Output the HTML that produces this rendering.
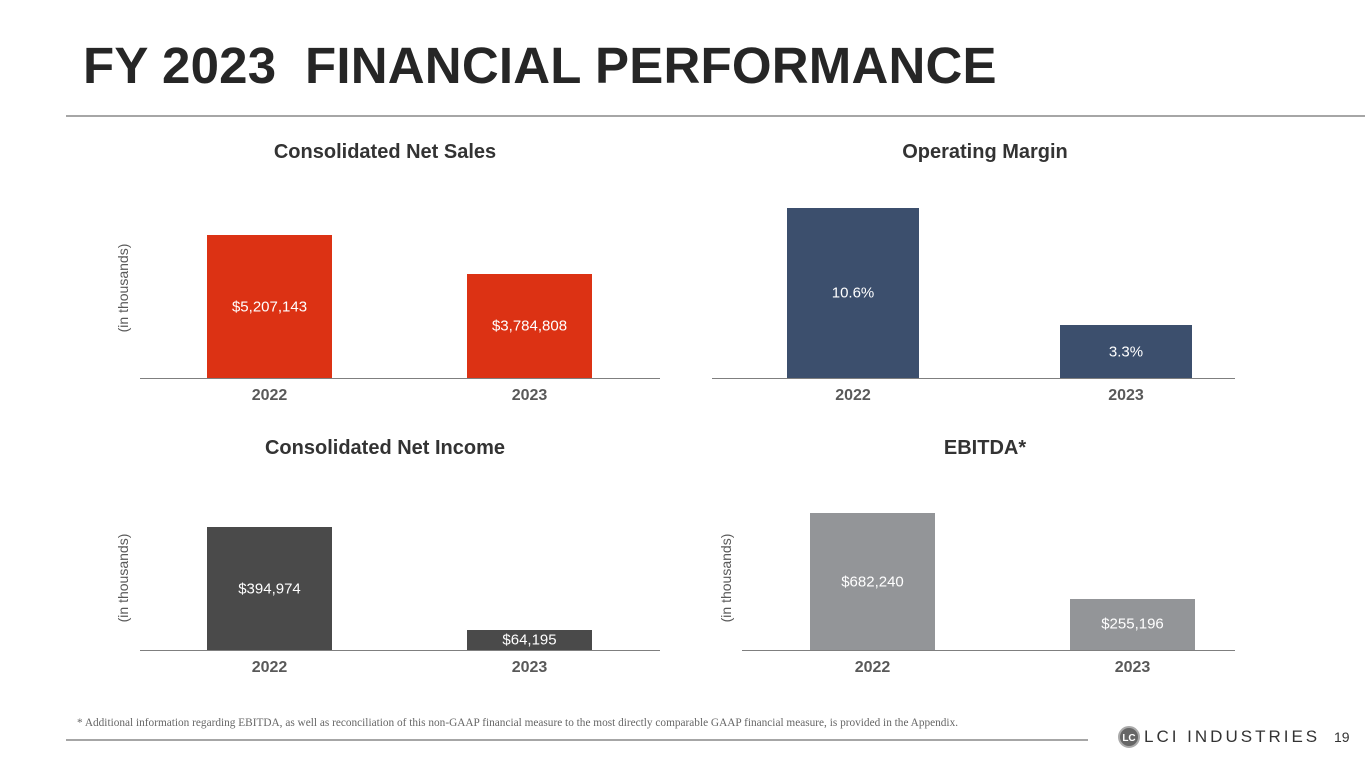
<!DOCTYPE html>
<html><head><meta charset="utf-8"><style>
body{margin:0;width:1365px;height:768px;background:#fff;position:relative;overflow:hidden;font-family:"Liberation Sans",sans-serif}
.abs{position:absolute}
#title{left:83px;top:36px;font-size:51px;font-weight:bold;color:#262626;white-space:pre;letter-spacing:0.2px}
.ct{font-size:20px;font-weight:bold;color:#333;transform:translateX(-50%);white-space:nowrap}
.yl{font-size:14px;color:#595959;transform:translate(-50%,-50%) rotate(-90deg);white-space:nowrap}
.yr{font-size:16px;font-weight:bold;color:#595959;transform:translateX(-50%)}
.vl{font-size:15px;color:#fff;transform:translate(-50%,-50%);white-space:nowrap}
</style></head><body>
<div id="title" class="abs">FY 2023  FINANCIAL PERFORMANCE</div>
<div class="abs" style="left:66px;top:115px;width:1299px;height:2px;background:#a6a6a6"></div>
<div class="abs" style="left:77px;top:717px;font-family:'Liberation Serif',serif;font-size:11.3px;color:#666;white-space:nowrap">* Additional information regarding EBITDA, as well as reconciliation of this non-GAAP financial measure to the most directly comparable GAAP financial measure, is provided in the Appendix.</div>
<div class="abs" style="left:66px;top:739px;width:1022px;height:2px;background:#a6a6a6"></div>
<div class="abs" style="left:1118px;top:726px;display:flex;align-items:center">
<svg width="22" height="22"><circle cx="11" cy="11" r="10" fill="#666" stroke="#aaa" stroke-width="2"/><text x="11" y="15" font-size="10" font-weight="bold" text-anchor="middle" fill="#fff" font-family="Liberation Sans">LC</text></svg>
<span style="font-size:17px;color:#333;letter-spacing:3px;margin-left:4px">LCI INDUSTRIES</span></div>
<div class="abs" style="left:1334px;top:729px;font-size:14px;color:#333">19</div>
<div id="charts"></div>
<script>
const years=["2022","2023"];
const salesVals=[5207143,3784808];
const salesLabels=["$5,207,143","$3,784,808"];
const marginVals=[10.6,3.3];
const marginLabels=["10.6%","3.3%"];
const incomeVals=[394974,64195];
const incomeLabels=["$394,974","$64,195"];
const ebitdaVals=[682240,255196];
const ebitdaLabels=["$682,240","$255,196"];

const charts=[
 {name:"net-sales",title:"Consolidated Net Sales",vals:salesVals,labels:salesLabels,color:"#dc3214",base:378,ax0:140,ax1:660,bx:[207,467],bw:125,cx:385,ty:141,maxV:5207143,maxH:143,yl:123},
 {name:"operating-margin",title:"Operating Margin",vals:marginVals,labels:marginLabels,color:"#3c4f6d",base:378,ax0:712,ax1:1235,bx:[787,1060],bw:132,cx:985,ty:141,maxV:10.6,maxH:170,yl:null},
 {name:"net-income",title:"Consolidated Net Income",vals:incomeVals,labels:incomeLabels,color:"#4a4a4a",base:650,ax0:140,ax1:660,bx:[207,467],bw:125,cx:385,ty:437,maxV:394974,maxH:123,yl:123},
 {name:"ebitda",title:"EBITDA*",vals:ebitdaVals,labels:ebitdaLabels,color:"#939598",base:650,ax0:742,ax1:1235,bx:[810,1070],bw:125,cx:985,ty:437,maxV:682240,maxH:137,yl:726}
];
const root=document.getElementById('charts');
function mk(cls,style,text){const d=document.createElement('div');d.className='abs '+cls;Object.assign(d.style,style);if(text!=null)d.textContent=text;root.appendChild(d);return d;}
charts.forEach(c=>{
 const y=v=>c.base-v/c.maxV*c.maxH;
 let t=mk('ct',{left:c.cx+'px',top:c.ty+'px'},c.title);
 
 
 if(c.yl!=null){let l=mk('yl',{left:c.yl+'px',top:(c.base-(c.base===378?90:72))+'px'},'(in thousands)');
  
  }
 c.vals.forEach((v,i)=>{
  const top=y(v);
  let b=mk('',{left:c.bx[i]+'px',top:top+'px',width:c.bw+'px',height:(c.base-top)+'px',background:c.color});
  
  
  let vl=mk('vl',{left:(c.bx[i]+c.bw/2)+'px',top:((top+c.base)/2)+'px'},c.labels[i]);
  
  
  let yr=mk('yr',{left:(c.bx[i]+c.bw/2)+'px',top:(c.base+9)+'px'},years[i]);
  
  
 });
 let a=mk('',{left:c.ax0+'px',top:c.base+'px',width:(c.ax1-c.ax0)+'px',height:'1px',background:'#7f7f7f'});
 
 
});
</script>
</body></html>
